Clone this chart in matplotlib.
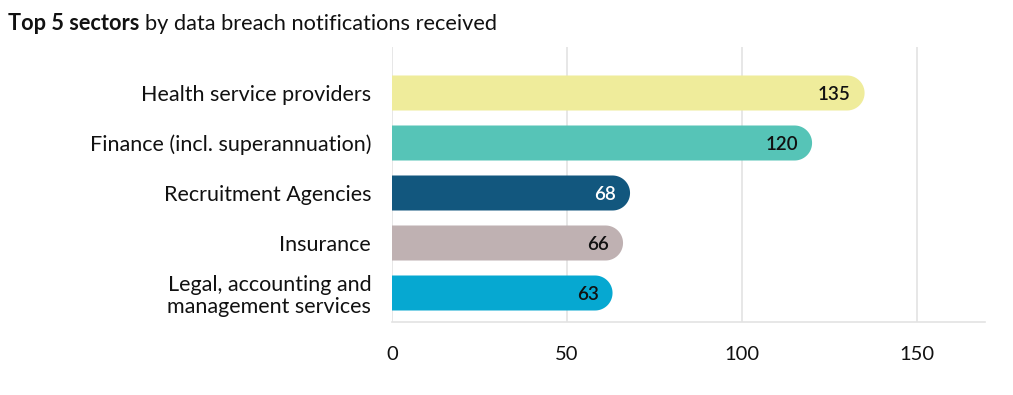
import numpy as np
import matplotlib
matplotlib.use("Agg")
import matplotlib.pyplot as plt
from matplotlib.patches import Polygon

# Data
sectors = [
    "Health service providers",
    "Finance (incl. superannuation)",
    "Recruitment Agencies",
    "Insurance",
    "Legal, accounting and\nmanagement services",
]
notifications = [135, 120, 68, 66, 63]
bar_colors = ["#EFEC9B", "#56C4B7", "#12577E", "#BFB1B2", "#06A8D1"]
value_colors = ["#111111", "#111111", "#FFFFFF", "#111111", "#111111"]
x_ticks = [0, 50, 100, 150]

plt.rcParams["font.family"] = ["Lato", "DejaVu Sans"]

W, H, DPI = 1013, 395, 100
fig = plt.figure(figsize=(W / DPI, H / DPI), dpi=DPI)
ax = fig.add_axes([392 / W, 1 - 322 / H, (985 - 392) / W, (322 - 47) / H])

xmax = 169.4
ax.set_xlim(0, xmax)
ax.set_ylim(4.58, -0.92)

bar_h = 0.70
# horizontal radius of the rounded end in data units, so the cap looks circular
px_per_unit_x = (985 - 392) / xmax
px_per_unit_y = (322 - 47) / 5.5
r_px = bar_h / 2 * px_per_unit_y
rx = r_px / px_per_unit_x
ry = bar_h / 2

theta = np.linspace(-np.pi / 2, np.pi / 2, 40)
for i, (v, c) in enumerate(zip(notifications, bar_colors)):
    xc = v - rx
    arc = np.column_stack([xc + rx * np.cos(theta), i + ry * np.sin(theta)])
    pts = np.vstack([[[0, i - ry]], [[xc, i - ry]], arc, [[xc, i + ry]], [[0, i + ry]]])
    ax.add_patch(Polygon(pts, closed=True, facecolor=c, edgecolor="none", zorder=3))
    ax.annotate(str(v), xy=(v, i), xytext=(-14, -1), textcoords="offset pixels",
                ha="right", va="center", fontsize=13.5, fontweight="semibold",
                color=value_colors[i], zorder=4)

ax.set_yticks(range(len(sectors)))
ax.set_yticklabels(sectors, fontsize=15.5, color="#111111", linespacing=1.15)
ax.tick_params(axis="y", length=0, pad=15)

ax.set_xticks(x_ticks)
ax.set_xticklabels([str(t) for t in x_ticks], fontsize=14.5, color="#111111")
ax.tick_params(axis="x", length=0, pad=17)

ax.grid(axis="x", color="#E3E3E3", linewidth=1.2, zorder=0)
for s in ["top", "right", "left"]:
    ax.spines[s].set_visible(False)
ax.spines["bottom"].set_color("#E3E3E3")
ax.spines["bottom"].set_linewidth(1.2)

title_y = 1 - 24 / H
t = fig.text(8 / W, title_y, "Top 5 sectors", fontsize=15.7, fontweight="bold",
             color="#111111", va="center", ha="left")
fig.canvas.draw()
bb = t.get_window_extent()
fig.text((bb.x1 + 6) / W, title_y, "by data breach notifications received",
         fontsize=15.7, color="#111111", va="center", ha="left")

fig.savefig("out.png", dpi=DPI, facecolor="white")
